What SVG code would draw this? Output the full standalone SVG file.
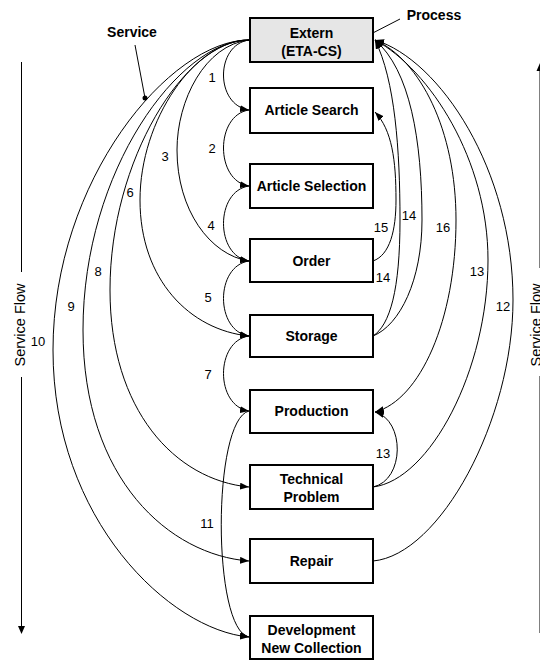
<svg xmlns="http://www.w3.org/2000/svg" width="540" height="660" viewBox="0 0 540 660">
<style>
.box{fill:#fff;stroke:#000;stroke-width:2}
.ext{fill:#e6e6e6}
.lbl{font-family:"Liberation Sans",Arial,sans-serif;font-size:14px;font-weight:bold;text-anchor:middle;fill:#000}
.num{font-family:"Liberation Sans",Arial,sans-serif;font-size:13px;text-anchor:middle;fill:#000}
.flow{font-family:"Liberation Sans",Arial,sans-serif;font-size:14.5px;text-anchor:middle;fill:#000}
.c{fill:none;stroke:#000;stroke-width:1}
.a{marker-end:url(#ah)}
</style>
<defs>
<marker id="ah" markerUnits="userSpaceOnUse" markerWidth="10" markerHeight="8" refX="9" refY="3.5" orient="auto">
<path d="M0,0 L9,3.5 L0,7 z" fill="#000"/>
</marker>
</defs>
<g id="connectors">
<!-- left chain -->
<path class="c a" d="M249,40 C215,45 215,105 249,110"/>
<path class="c a" d="M249,110 C215,115 215,181 249,186"/>
<path class="c a" d="M249,186 C215,191 215,256 249,261"/>
<path class="c a" d="M249,261 C215,266 215,331 249,336"/>
<path class="c a" d="M249,336 C215,341 215,406 249,411"/>
<path class="c a" d="M249,411 C212,420 212,630 249,637"/>
<!-- left big curves from Extern -->
<path class="c a" d="M249,40 C205,45 177,100 177,150 C177,210 210,255 249,261"/>
<path class="c a" d="M249,40 C195,40 140,120 140,200 C140,280 190,330 249,336"/>
<path class="c a" d="M249,40 C185,40 110,160 110,290 C110,410 175,480 249,487"/>
<path class="c a" d="M249,40 C180,40 83,170 83,330 C83,480 170,555 249,561"/>
<path class="c a" d="M249,40 C170,40 53,180 53,350 C53,520 170,630 249,637"/>
<!-- right curves -->
<path class="c a" d="M373,261 C390,255 396,230 396,200 C396,160 392,130 375,112"/>
<path class="c a" d="M373,336 C390,325 400,290 400,220 C400,150 395,80 375,40"/>
<path class="c a" d="M373,336 C400,325 422,280 422,220 C422,140 410,70 375,40"/>
<path class="c a" d="M375,40 C420,60 456,130 456,220 C456,320 420,400 375,412"/>
<path class="c a" d="M373,487 C430,480 488,370 488,260 C488,160 430,70 375,40"/>
<path class="c a" d="M373,487 C405,480 405,420 375,412"/>
<path class="c a" d="M373,561 C440,555 513,420 513,300 C513,170 440,60 375,40"/>
<!-- service flow arrows -->
<path class="c" d="M21.5,62 V272 M21.5,377 V627"/>
<path d="M18,626 L25,626 L21.5,634 z" fill="#000"/>
<path class="c" d="M540,70 V268 M540,376 V633"/>
<path d="M536.5,71 L543.5,71 L540,63 z" fill="#000"/>
<!-- pointers -->
<path class="c" d="M135,45 L145,98"/>
<circle cx="145" cy="98" r="2.5" fill="#000"/>
<path class="c" d="M400,19 L365,37"/>
<circle cx="365" cy="37" r="2.5" fill="#000"/>
</g>
<g id="labels">
<text class="num" x="212" y="82">1</text>
<text class="num" x="212" y="153">2</text>
<text class="num" x="165" y="161">3</text>
<text class="num" x="211" y="230">4</text>
<text class="num" x="208" y="302">5</text>
<text class="num" x="130" y="197">6</text>
<text class="num" x="208" y="379">7</text>
<text class="num" x="98" y="276">8</text>
<text class="num" x="71" y="311">9</text>
<text class="num" x="38" y="346">10</text>
<text class="num" x="207" y="528">11</text>
<text class="num" x="503" y="311">12</text>
<text class="num" x="477" y="276">13</text>
<text class="num" x="383" y="458">13</text>
<text class="num" x="409" y="220">14</text>
<text class="num" x="383" y="282">14</text>
<text class="num" x="381" y="232">15</text>
<text class="num" x="443" y="232">16</text>
<text class="lbl" x="132" y="37">Service</text>
<text class="lbl" x="434" y="20">Process</text>
<text class="flow" transform="translate(25,325) rotate(-90)">Service Flow</text>
<text class="flow" transform="translate(541,325) rotate(-90)">Service Flow</text>
</g>
<g id="extern">
<rect class="box ext" x="250" y="18" width="123" height="44"/>
<text class="lbl" x="311.5" y="38">Extern</text>
<text class="lbl" x="311.5" y="56">(ETA-CS)</text>
</g>
<g id="article-search">
<rect class="box" x="250" y="88" width="123" height="45"/>
<text class="lbl" x="311.5" y="115">Article Search</text>
</g>
<g id="article-selection">
<rect class="box" x="250" y="164" width="123" height="44"/>
<text class="lbl" x="311.5" y="191">Article Selection</text>
</g>
<g id="order">
<rect class="box" x="250" y="239" width="123" height="43"/>
<text class="lbl" x="311.5" y="266">Order</text>
</g>
<g id="storage">
<rect class="box" x="250" y="315" width="123" height="42"/>
<text class="lbl" x="311.5" y="341">Storage</text>
</g>
<g id="production">
<rect class="box" x="250" y="390" width="123" height="43"/>
<text class="lbl" x="311.5" y="416">Production</text>
</g>
<g id="technical-problem">
<rect class="box" x="250" y="465" width="123" height="44"/>
<text class="lbl" x="311.5" y="484">Technical</text>
<text class="lbl" x="311.5" y="502">Problem</text>
</g>
<g id="repair">
<rect class="box" x="250" y="539" width="123" height="44"/>
<text class="lbl" x="311.5" y="566">Repair</text>
</g>
<g id="development">
<rect class="box" x="250" y="616" width="123" height="43"/>
<text class="lbl" x="311.5" y="635">Development</text>
<text class="lbl" x="311.5" y="653">New Collection</text>
</g>
</svg>
